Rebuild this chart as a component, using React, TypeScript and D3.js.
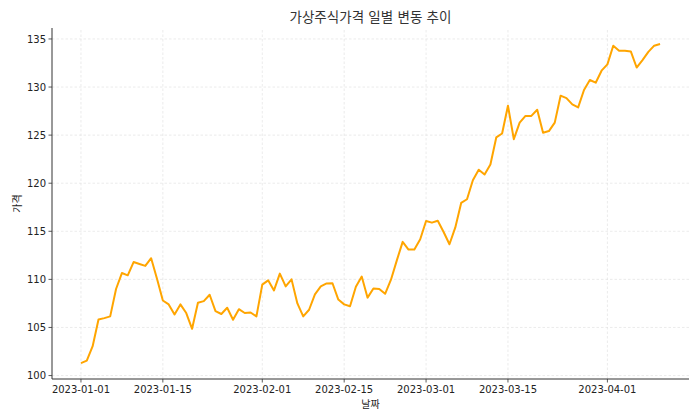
import React from "react";
import * as d3 from "d3";

const title = "가상주식가격 일별 변동 추이";
const xLabel = "날짜";
const yLabel = "가격";
const startDate = "2023-01-01";
const prices = [
  101.3, 101.56, 103.05, 105.83, 105.97, 106.15, 109.0, 110.66, 110.42, 111.8,
  111.6, 111.4, 112.2, 110.07, 107.8, 107.4, 106.35, 107.4, 106.5, 104.86,
  107.57, 107.74, 108.4, 106.7, 106.4, 107.05, 105.8, 106.9, 106.5, 106.56,
  106.15, 109.45, 109.9, 108.85, 110.6, 109.27, 110.0, 107.5, 106.15, 106.84,
  108.44, 109.27, 109.58, 109.6, 107.9, 107.4, 107.2, 109.24, 110.3, 108.1,
  109.06, 109.0, 108.5, 109.97, 111.98, 113.9, 113.1, 113.1, 114.17, 116.07,
  115.9, 116.1, 114.93, 113.65, 115.4, 117.95, 118.33, 120.3, 121.4, 120.9,
  121.95, 124.76, 125.17, 128.06, 124.58, 126.3, 127.0, 127.0, 127.64, 125.25,
  125.42, 126.3, 129.1, 128.85, 128.2, 127.88, 129.69, 130.73, 130.45, 131.7,
  132.36, 134.3, 133.78, 133.78, 133.7, 132.03, 132.8, 133.65, 134.3, 134.48,
];
const xTickDates = ["2023-01-01", "2023-01-15", "2023-02-01", "2023-02-15", "2023-03-01", "2023-03-15", "2023-04-01"];
const yTicks = [100, 105, 110, 115, 120, 125, 130, 135];

const W = 700;
const H = 420;
const M = { left: 52, right: 11, top: 28, bottom: 41 };
const FONT = "'DejaVu Sans', 'Noto Sans CJK KR', sans-serif";

function parse(s: string) {
  const [y, m, d] = s.split("-").map(Number);
  return new Date(Date.UTC(y, m - 1, d));
}

export default function App() {
  const start = parse(startDate);
  const data = prices.map((v, i) => ({ date: d3.utcDay.offset(start, i), v }));
  const first = data[0].date;
  const last = data[data.length - 1].date;
  const span = +last - +first;
  const x = d3
    .scaleUtc()
    .domain([new Date(+first - span * 0.05), new Date(+last + span * 0.05)])
    .range([M.left, W - M.right]);
  const [ymin, ymax] = d3.extent(prices) as [number, number];
  const yr = ymax - ymin;
  const y = d3
    .scaleLinear()
    .domain([ymin - yr * 0.05, ymax + yr * 0.05])
    .range([H - M.bottom, M.top]);
  const line = d3
    .line<{ date: Date; v: number }>()
    .x((d) => x(d.date))
    .y((d) => y(d.v));
  const x0 = M.left;
  const x1 = W - M.right;
  const y0 = H - M.bottom;
  const y1 = M.top;
  return (
    <svg width={W} height={H} style={{ position: "absolute", left: 0, top: 0, background: "#fff" }} fontFamily={FONT}>
      <rect x={0} y={0} width={W} height={H} fill="#fff" />
      {xTickDates.map((t) => {
        const px = x(parse(t));
        return (
          <line key={"gx" + t} x1={px} x2={px} y1={y0} y2={y1} stroke="#e2e2e2" strokeWidth={0.7} strokeDasharray="2.5,2" />
        );
      })}
      {yTicks.map((t) => {
        const py = y(t);
        return (
          <line key={"gy" + t} x1={x0} x2={x1} y1={py} y2={py} stroke="#e2e2e2" strokeWidth={0.7} strokeDasharray="2.5,2" />
        );
      })}
      <path d={line(data) || ""} fill="none" stroke="#FFA500" strokeWidth={2} strokeLinejoin="round" />
      <line x1={x0} x2={x0} y1={y0} y2={y1} stroke="#333" strokeWidth={1} />
      <line x1={x0} x2={x1} y1={y0} y2={y0} stroke="#333" strokeWidth={1} />
      {xTickDates.map((t) => {
        const px = x(parse(t));
        return (
          <g key={"tx" + t}>
            <line x1={px} x2={px} y1={y0} y2={y0 + 3.5} stroke="#333" strokeWidth={0.8} />
            <text x={px} y={y0 + 14} textAnchor="middle" fontSize={10} fill="#222">
              {t}
            </text>
          </g>
        );
      })}
      {yTicks.map((t) => {
        const py = y(t);
        return (
          <g key={"ty" + t}>
            <line x1={x0 - 3.5} x2={x0} y1={py} y2={py} stroke="#333" strokeWidth={0.8} />
            <text x={x0 - 6} y={py + 3.6} textAnchor="end" fontSize={10} fill="#222">
              {t}
            </text>
          </g>
        );
      })}
      <text x={(x0 + x1) / 2} y={408} textAnchor="middle" fontSize={10} fill="#222">
        {xLabel}
      </text>
      <text transform={`translate(21, ${(y0 + y1) / 2}) rotate(-90)`} textAnchor="middle" fontSize={10} fill="#222">
        {yLabel}
      </text>
      <text x={(x0 + x1) / 2} y={22} textAnchor="middle" fontSize={13.5} fill="#333">
        {title}
      </text>
    </svg>
  );
}
